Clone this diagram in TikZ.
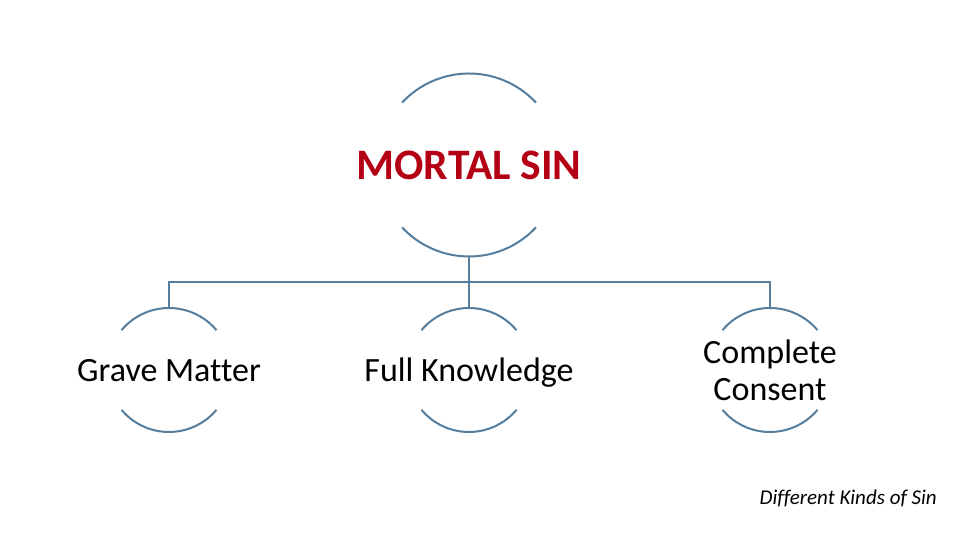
\documentclass[tikz,border=0pt]{standalone}
\usepackage{fontspec}
\setmainfont[Ligatures=NoCommon]{Carlito}
\definecolor{ringblue}{RGB}{84,125,158}
\definecolor{sinred}{RGB}{180,0,20}
\begin{document}
\begin{tikzpicture}[x=1pt,y=1pt,
  ringnode/.style={circle,draw=none,inner sep=0pt,outer sep=0pt,minimum size=#1},
  ringline/.style={draw=ringblue,line width=2pt},
  childtext/.style={font=\fontsize{34}{37}\selectfont,align=center,text=black,inner sep=0pt},
]
\useasboundingbox (0,0) rectangle (960,540);
% top circle
\node[ringnode=183] (top) at (469,375) {};
\node[font=\bfseries\fontsize{43.5}{46}\selectfont,text=sinred] (toptext) at (top.center) {MORTAL SIN};
\draw[ringline] (top.137) arc[start angle=137,end angle=43,radius=91.5];
\draw[ringline] (top.223) arc[start angle=223,end angle=317,radius=91.5];
% children
\node[ringnode=124] (c1) at (169,170) {};
\node[ringnode=124] (c2) at (469,170) {};
\node[ringnode=124] (c3) at (770,170) {};
\node[childtext,anchor=base] (t1) at ([yshift=-12pt]c1.center) {Grave Matter};
\node[childtext,anchor=base] (t2) at ([yshift=-12pt]c2.center) {Full Knowledge};
\node[childtext] (t3) at (c3.center) {Complete\\Consent};
\foreach \c in {c1,c2,c3}{
  \draw[ringline] (\c.140) arc[start angle=140,end angle=40,radius=62];
  \draw[ringline] (\c.220) arc[start angle=220,end angle=320,radius=62];
}
% connectors
\coordinate (bus) at (469,258);
\draw[ringline] (top.south) -- (c2.north);
\draw[ringline] (c1.north) |- (bus) -| (c3.north);
% caption
\node[anchor=east,inner sep=0pt,font=\itshape\fontsize{21}{24}\selectfont] (cap) at (937,42) {Different Kinds of Sin};
\end{tikzpicture}
\end{document}
